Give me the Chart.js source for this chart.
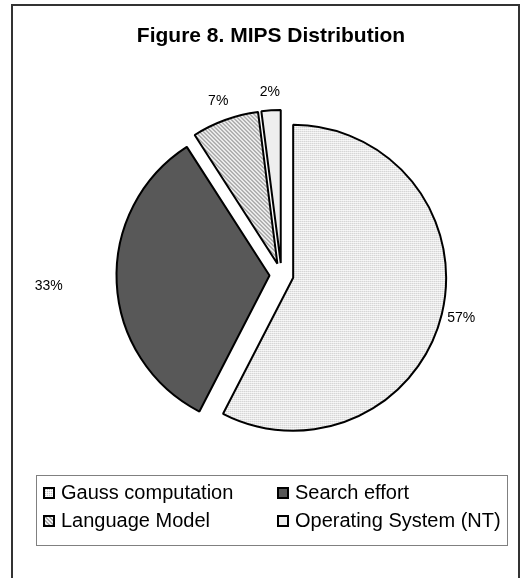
<!DOCTYPE html>
<html>
<head>
<meta charset="utf-8">
<script src="https://cdn.jsdelivr.net/npm/chart.js@4.4.0/dist/chart.umd.min.js"></script>
<style>
  html, body { margin: 0; padding: 0; background: #fff; }
  #page { position: relative; width: 524px; height: 578px; overflow: hidden; font-family: "Liberation Sans", Arial, sans-serif; }
  #frame { position: absolute; left: 11px; top: 4px; width: 505px; height: 640px; border: 2px solid #333; }
  #title { position: absolute; left: 12px; width: 518px; top: 23px; text-align: center; font-weight: bold; font-size: 21px; color: #000; }
  #chart { position: absolute; left: 0; top: 0; }
  #legend { position: absolute; left: 36px; top: 475px; width: 470px; height: 69px; border: 1px solid #808080; }
  .item { position: absolute; display: flex; align-items: center; font-size: 20px; color: #000; white-space: nowrap; }
  .item canvas { display: block; margin-right: 6px; }
</style>
</head>
<body>
<div id="page">
  <div id="frame"></div>
  <canvas id="chart" width="524" height="578"></canvas>
  <div id="title"></div>
  <div id="legend"></div>
</div>
<script>
// Share of MIPS per component (percent)
const categories = ['Gauss computation', 'Search effort', 'Language Model', 'Operating System (NT)'];
const shares = [57, 33, 7, 2];
const chartTitle = 'Figure 8. MIPS Distribution';

// Exploded-pie geometry and label spacing
const EXPLODE = 12;
const PIE_RADIUS = 153;
const labelGap = [20, 68, 20, 18];

function makePattern(size, paint) {
  const c = document.createElement('canvas');
  c.width = c.height = size;
  const g = c.getContext('2d');
  paint(g, size);
  return g.createPattern(c, 'repeat');
}

// Fine dotted grey
const dotted = makePattern(2, (g) => {
  g.fillStyle = '#f2f2f2'; g.fillRect(0, 0, 2, 2);
  g.fillStyle = '#c4c4c4'; g.fillRect(0, 0, 1, 1);
  g.fillStyle = '#ffffff'; g.fillRect(1, 1, 1, 1);
});
// Diagonal hatching
const hatched = makePattern(4, (g) => {
  g.fillStyle = '#f4f4f4'; g.fillRect(0, 0, 4, 4);
  g.fillStyle = '#a8a8a8';
  for (let y = 0; y < 4; y++) {
    for (let x = 0; x < 4; x++) {
      const k = ((x - y) % 4 + 4) % 4;
      if (k === 0 || k === 1) g.fillRect(x, y, 1, 1);
    }
  }
});
const fills = [dotted, '#585858', hatched, '#eeeeee'];

// Draws every slice pushed out along its own bisector
const explodePlugin = {
  id: 'explode',
  beforeDatasetDraw(chart, args) {
    const ctx = chart.ctx;
    args.meta.data.forEach((arc) => {
      const mid = (arc.startAngle + arc.endAngle) / 2;
      ctx.save();
      ctx.translate(Math.cos(mid) * EXPLODE, Math.sin(mid) * EXPLODE);
      arc.draw(ctx);
      ctx.restore();
    });
    return false;
  }
};

// Percentage labels outside each slice
const percentPlugin = {
  id: 'percentLabels',
  afterDatasetsDraw(chart) {
    const ctx = chart.ctx;
    const meta = chart.getDatasetMeta(0);
    ctx.save();
    ctx.font = '14px "Liberation Sans", Arial, sans-serif';
    ctx.fillStyle = '#000';
    ctx.textAlign = 'center';
    ctx.textBaseline = 'middle';
    meta.data.forEach((arc, i) => {
      const mid = (arc.startAngle + arc.endAngle) / 2;
      const d = EXPLODE + arc.outerRadius + labelGap[i];
      ctx.fillText(shares[i] + '%', arc.x + Math.cos(mid) * d, arc.y + Math.sin(mid) * d);
    });
    ctx.restore();
  }
};

const chart = new Chart(document.getElementById('chart'), {
  type: 'pie',
  data: {
    labels: categories,
    datasets: [{
      data: shares,
      backgroundColor: fills,
      borderColor: '#000',
      borderWidth: 2,
      radius: PIE_RADIUS
    }]
  },
  options: {
    responsive: false,
    animation: false,
    devicePixelRatio: 1,
    layout: { padding: { left: 39, right: 0, top: 0, bottom: 28 } },
    plugins: {
      legend: { display: false },
      tooltip: { enabled: false },
      title: { display: false }
    }
  },
  plugins: [explodePlugin, percentPlugin]
});

document.getElementById('title').textContent = chartTitle;

// Two-column legend with patterned swatches
const legend = document.getElementById('legend');
const colX = [6, 240];
const rowY = [5, 33];
categories.forEach((name, i) => {
  const item = document.createElement('div');
  item.className = 'item';
  item.style.left = colX[i % 2] + 'px';
  item.style.top = rowY[Math.floor(i / 2)] + 'px';
  const sw = document.createElement('canvas');
  sw.width = 12; sw.height = 12;
  const g = sw.getContext('2d');
  g.fillStyle = fills[i];
  g.fillRect(0, 0, 12, 12);
  g.strokeStyle = '#000';
  g.lineWidth = 2;
  g.strokeRect(1, 1, 10, 10);
  const label = document.createElement('span');
  label.textContent = name;
  item.appendChild(sw);
  item.appendChild(label);
  legend.appendChild(item);
});
</script>
</body>
</html>
